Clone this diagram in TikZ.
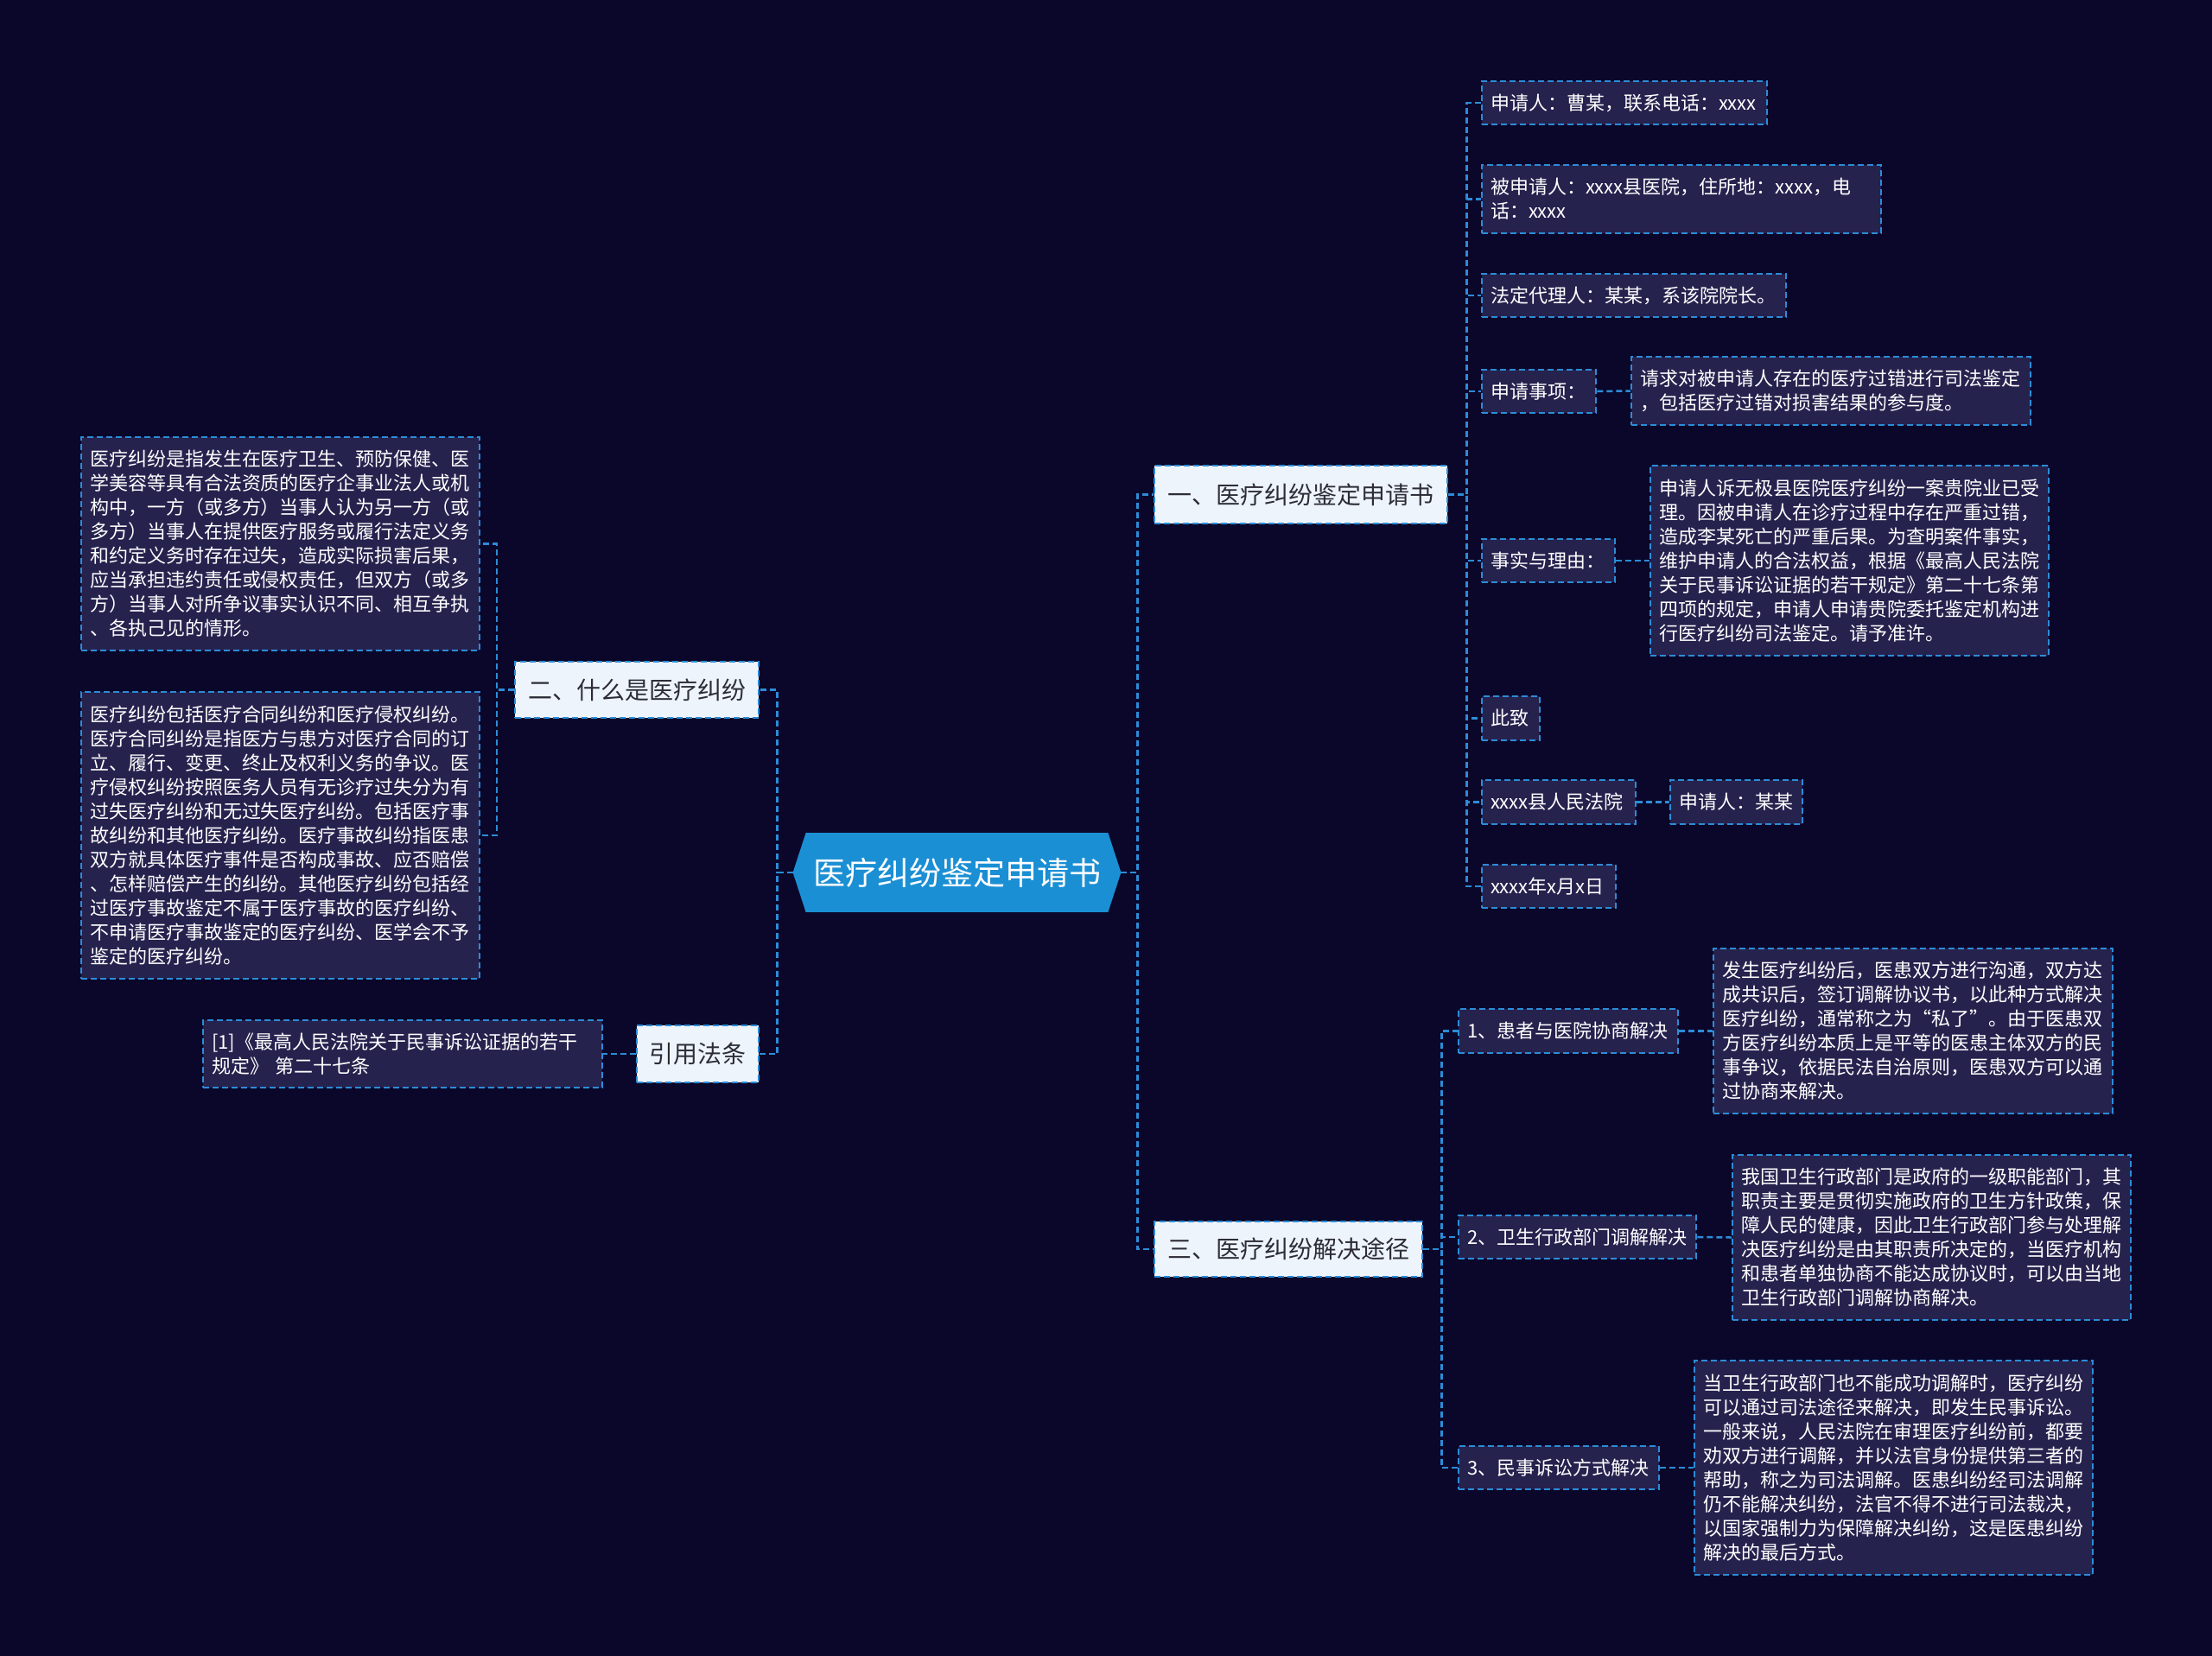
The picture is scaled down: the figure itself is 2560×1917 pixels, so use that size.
\documentclass[tikz,border=0pt]{standalone}
\usepackage{fontspec}
\setmainfont{Noto Sans CJK SC}
\usetikzlibrary{backgrounds}
\definecolor{bgcol}{RGB}{10,7,42}
\definecolor{leafcol}{RGB}{38,34,78}
\definecolor{linecol}{RGB}{44,140,215}
\definecolor{lonecol}{RGB}{238,244,252}
\definecolor{darktext}{RGB}{45,45,55}
\definecolor{rootcol}{RGB}{27,143,212}
\tikzset{
  dashline/.style={draw=linecol, line width=1.25pt, dash pattern=on 3.5pt off 2pt},
  conn/.style={dashline},
  rootnode/.style={inner sep=0pt, minimum width=189.5pt, minimum height=45.5pt, text=white, font=\fontsize{18.5pt}{22pt}\selectfont},
  lone/.style={dashline, fill=lonecol, text=darktext, inner sep=0pt, font=\fontsize{14pt}{17pt}\selectfont},
  leaf/.style={dashline, fill=leafcol, text=white, inner xsep=5pt, inner ysep=0pt, align=left, font=\fontsize{11pt}{14pt}\selectfont},
  box/.style n args={3}{minimum width=#1, minimum height=#2, text width=#3}
}
\begin{document}
\begin{tikzpicture}[x=0.5pt, y=-0.5pt]
\useasboundingbox (0,0) rectangle (2560,1917);
\begin{scope}[on background layer]
  \fill[bgcol] (0,0) rectangle (2560,1917);
\end{scope}

% root
\node[rootnode] (root) at (1107.5,1010) {医疗纠纷鉴定申请书};
\begin{scope}[on background layer]
  \fill[rootcol] (root.west) -- ([xshift=7.5pt]root.north west) -- ([xshift=-7.5pt]root.north east)
    -- (root.east) -- ([xshift=-7.5pt]root.south east) -- ([xshift=7.5pt]root.south west) -- cycle;
\end{scope}

% level 1
\node[lone, minimum width=169.5pt, minimum height=33.5pt] (b1) at (1505.5,572.5) {一、医疗纠纷鉴定申请书};
\node[lone, minimum width=141pt, minimum height=32.5pt] (b2) at (737,798.5) {二、什么是医疗纠纷};
\node[lone, minimum width=70.5pt, minimum height=33pt] (b3) at (807.5,1220) {引用法条};
\node[lone, minimum width=155pt, minimum height=32pt] (b4) at (1491,1446) {三、医疗纠纷解决途径};

% left leaves
\node[leaf, box={230.5pt}{123.5pt}{220.5pt}] (l1) at (324.5,629.5) {医疗纠纷是指发生在医疗卫生、预防保健、医\\学美容等具有合法资质的医疗企事业法人或机\\构中，一方（或多方）当事人认为另一方（或\\多方）当事人在提供医疗服务或履行法定义务\\和约定义务时存在过失，造成实际损害后果，\\应当承担违约责任或侵权责任，但双方（或多\\方）当事人对所争议事实认识不同、相互争执\\、各执己见的情形。};
\node[leaf, box={230.5pt}{166pt}{220.5pt}] (l2) at (324.5,967) {医疗纠纷包括医疗合同纠纷和医疗侵权纠纷。\\医疗合同纠纷是指医方与患方对医疗合同的订\\立、履行、变更、终止及权利义务的争议。医\\疗侵权纠纷按照医务人员有无诊疗过失分为有\\过失医疗纠纷和无过失医疗纠纷。包括医疗事\\故纠纷和其他医疗纠纷。医疗事故纠纷指医患\\双方就具体医疗事件是否构成事故、应否赔偿\\、怎样赔偿产生的纠纷。其他医疗纠纷包括经\\过医疗事故鉴定不属于医疗事故的医疗纠纷、\\不申请医疗事故鉴定的医疗纠纷、医学会不予\\鉴定的医疗纠纷。};
\node[leaf, box={231pt}{39pt}{221pt}] (ref) at (466,1220) {[1]《最高人民法院关于民事诉讼证据的若干\\规定》 第二十七条};

% right top group
\node[leaf, box={165pt}{25pt}{155pt}] (c1) at (1880,119) {申请人：曹某，联系电话：xxxx};
\node[leaf, box={231pt}{39.5pt}{221pt}] (c2) at (1946,230.5) {被申请人：xxxx县医院，住所地：xxxx，电\\话：xxxx};
\node[leaf, box={176pt}{25pt}{166pt}] (c3) at (1891,342) {法定代理人：某某，系该院院长。};
\node[leaf, box={66pt}{25pt}{56pt}] (c4) at (1781,453) {申请事项：};
\node[leaf, box={231pt}{39.5pt}{221pt}] (c4d) at (2119,452.5) {请求对被申请人存在的医疗过错进行司法鉴定\\，包括医疗过错对损害结果的参与度。};
\node[leaf, box={77pt}{25pt}{67pt}] (c5) at (1792,649) {事实与理由：};
\node[leaf, box={230.5pt}{110pt}{220.5pt}] (c5d) at (2140.5,649) {申请人诉无极县医院医疗纠纷一案贵院业已受\\理。因被申请人在诊疗过程中存在严重过错，\\造成李某死亡的严重后果。为查明案件事实，\\维护申请人的合法权益，根据《最高人民法院\\关于民事诉讼证据的若干规定》第二十七条第\\四项的规定，申请人申请贵院委托鉴定机构进\\行医疗纠纷司法鉴定。请予准许。};
\node[leaf, box={33.5pt}{25.5pt}{23.5pt}] (c6) at (1748.5,831.5) {此致};
\node[leaf, box={89pt}{25.5pt}{79pt}] (c7) at (1804,928.5) {xxxx县人民法院};
\node[leaf, box={76.5pt}{25.5pt}{66.5pt}] (c7d) at (2009.5,928.5) {申请人：某某};
\node[leaf, box={77.5pt}{25pt}{67.5pt}] (c8) at (1792.5,1026) {xxxx年x月x日};

% right bottom group
\node[leaf, box={127pt}{25.5pt}{117pt}] (d1) at (1815,1193.5) {1、患者与医院协商解决};
\node[leaf, box={231pt}{95.5pt}{221pt}] (d1d) at (2214,1193.5) {发生医疗纠纷后，医患双方进行沟通，双方达\\成共识后，签订调解协议书，以此种方式解决\\医疗纠纷，通常称之为“私了”。由于医患双\\方医疗纠纷本质上是平等的医患主体双方的民\\事争议，依据民法自治原则，医患双方可以通\\过协商来解决。};
\node[leaf, box={137.5pt}{25pt}{127.5pt}] (d2) at (1825.5,1432) {2、卫生行政部门调解解决};
\node[leaf, box={230.5pt}{95.5pt}{220.5pt}] (d2d) at (2235.5,1432.5) {我国卫生行政部门是政府的一级职能部门，其\\职责主要是贯彻实施政府的卫生方针政策，保\\障人民的健康，因此卫生行政部门参与处理解\\决医疗纠纷是由其职责所决定的，当医疗机构\\和患者单独协商不能达成协议时，可以由当地\\卫生行政部门调解协商解决。};
\node[leaf, box={116pt}{25pt}{106pt}] (d3) at (1804,1699) {3、民事诉讼方式解决};
\node[leaf, box={230.5pt}{124pt}{220.5pt}] (d3d) at (2191.5,1699) {当卫生行政部门也不能成功调解时，医疗纠纷\\可以通过司法途径来解决，即发生民事诉讼。\\一般来说，人民法院在审理医疗纠纷前，都要\\劝双方进行调解，并以法官身份提供第三者的\\帮助，称之为司法调解。医患纠纷经司法调解\\仍不能解决纠纷，法官不得不进行司法裁决，\\以国家强制力为保障解决纠纷，这是医患纠纷\\解决的最后方式。};

% connectors
\foreach \t in {b1,b4} \draw[conn] (root.east) -- ++(9.5pt,0) |- (\t.west);
\foreach \t in {b2,b3} \draw[conn] (root.west) -- ++(-9pt,0) |- (\t.east);
\foreach \t in {l1,l2} \draw[conn] (b2.west) -- ++(-10pt,0) |- (\t.east);
\draw[conn] (b3.west) -- (ref.east);
\foreach \t in {c1,c2,c3,c4,c5,c6,c7,c8} \draw[conn] (b1.east) -- ++(10.5pt,0) |- (\t.west);
\draw[conn] (c4.east) -- (c4d.west);
\draw[conn] (c5.east) -- (c5d.west);
\draw[conn] (c7.east) -- (c7d.west);
\foreach \t in {d1,d2,d3} \draw[conn] (b4.east) -- ++(10.5pt,0) |- (\t.west);
\draw[conn] (d1.east) -- (d1d.west);
\draw[conn] (d2.east) -- (d2d.west);
\draw[conn] (d3.east) -- (d3d.west);
\end{tikzpicture}
\end{document}
